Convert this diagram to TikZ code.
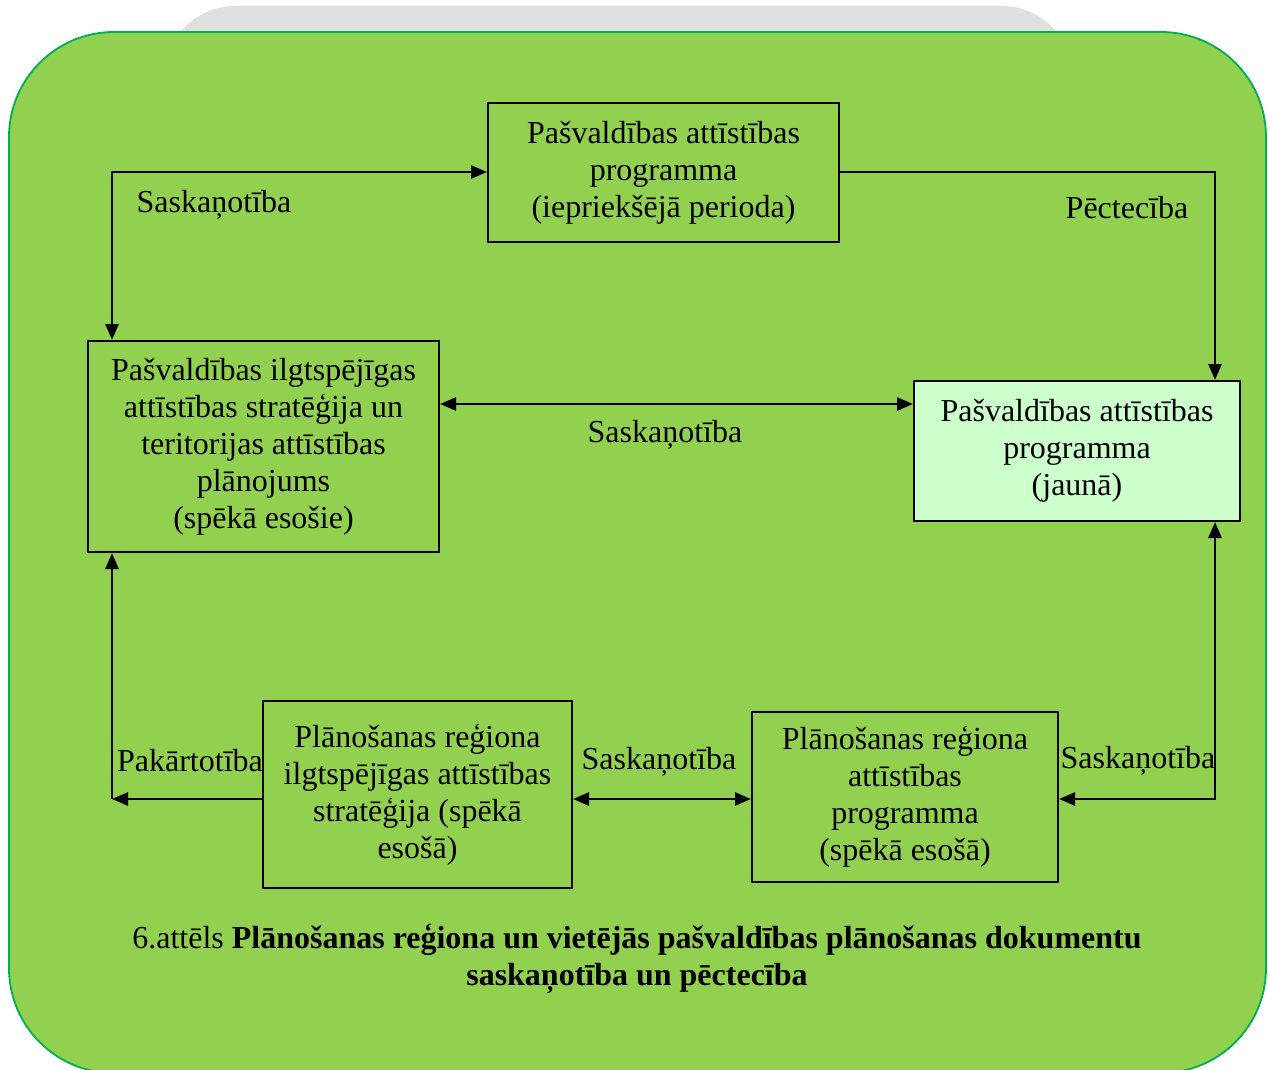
\documentclass[tikz,border=0pt]{standalone}
\usepackage{fontspec}
\setmainfont{Liberation Serif}
\usetikzlibrary{arrows.meta,positioning}
\definecolor{bggreen}{HTML}{92D050}
\definecolor{edgegreen}{HTML}{00B050}
\definecolor{lightgreen}{HTML}{CCFFCC}
\definecolor{backgrey}{HTML}{E0E0E0}
\tikzset{%
    >={Triangle[length=16pt,width=13pt]},
    doc/.style={draw=black,line width=2pt,align=center,inner sep=0pt,
        font=\fontsize{32}{37}\selectfont},
    lbl/.style={font=\fontsize{32}{37}\selectfont,inner sep=0pt},
    conn/.style={line width=2.8pt},
    rc/.style={rounded corners=105pt}
}

\begin{document}
\begin{tikzpicture}[x=1pt,y=-1pt]
            \useasboundingbox (0,0) rectangle (1268,1070);
            \fill[backgrey,rounded corners=70pt] (165,6) rectangle (1072,300);
            \filldraw[fill=bggreen,draw=edgegreen,line width=1.8pt,rc] (9,32) rectangle (1266,1073);
            %%%%%
            \node [doc,minimum width=351pt,minimum height=139pt] (prev) at (663.5,172.5)
            {Pašvaldības attīstības\\programma\\(iepriekšējā perioda)};
            \node [doc,minimum width=351pt,minimum height=211pt] (strat) at (263.5,446.5)
            {Pašvaldības ilgtspējīgas\\attīstības stratēģija un\\teritorijas attīstības\\plānojums\\(spēkā esošie)};
            \node [doc,fill=lightgreen,minimum width=326pt,minimum height=140pt] (new) at (1077,451)
            {Pašvaldības attīstības\\programma\\(jaunā)};
            \node [doc,minimum width=309pt,minimum height=187pt] (rstrat) at (417.5,794.5)
            {Plānošanas reģiona\\ilgtspējīgas attīstības\\stratēģija (spēkā\\esošā)};
            \node [doc,minimum width=306pt,minimum height=170pt] (rprog) at (905,797)
            {Plānošanas reģiona\\attīstības\\programma\\(spēkā esošā)};
            %%%%%
            \coordinate (tl) at (112,172);
            \coordinate (tr) at (1215,172);
            \coordinate (mid) at (0,404);
            \coordinate (bl) at (112,799);
            \coordinate (br) at (1215,799);
            \draw[conn,<->] (strat.north -| tl) -- (tl) -- (prev.west |- tl);
            \draw[conn,->] (prev.east |- tr) -- (tr) -- (new.north -| tr);
            \draw[conn,<->] (strat.east |- mid) -- (new.west |- mid);
            \draw[conn,->] (rstrat.west |- bl) -- (bl);
            \draw[conn,->] (bl) -- (strat.south -| bl);
            \draw[conn,<->] (rstrat.east |- bl) -- (rprog.west |- bl);
            \draw[conn,<->] (rprog.east |- br) -- (br) -- (new.south -| br);
            %%%%%
            \node [lbl] (s1) at (214,205) {Saskaņotība};
            \node [lbl] (p1) at (1127,208) {Pēctecība};
            \node [lbl] (s2) at (665,435) {Saskaņotība};
            \node [lbl] (pk) at (190,761) {Pakārtotība};
            \node [lbl] (s3) at (659,762) {Saskaņotība};
            \node [lbl] (s4) at (1138,761) {Saskaņotība};
            \node [align=center,font=\fontsize{32}{37}\selectfont] (cap) at (637,959)
            {6.attēls \textbf{Plānošanas reģiona un vietējās pašvaldības plānošanas dokumentu}\\
            \textbf{saskaņotība un pēctecība}};
\end{tikzpicture}
\end{document}
